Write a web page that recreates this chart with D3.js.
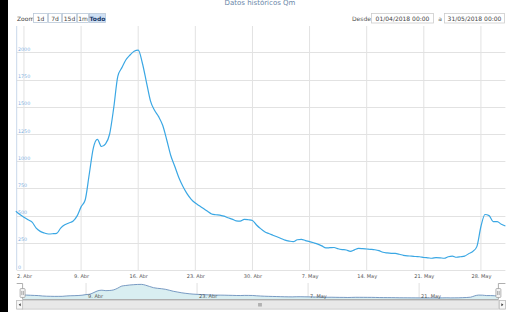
<!DOCTYPE html>
<html>
<head>
<meta charset="utf-8">
<script src="https://cdn.jsdelivr.net/npm/d3@7"></script>
<style>
  body { margin: 0; background: #fff; }
  svg { display: block; font-family: 'DejaVu Sans', sans-serif; }
</style>
</head>
<body>
<div id="chart"></div>
<script>
// Q values every 12 hours, 01/04/2018 00:00 -> 31/05/2018 00:00
const startDate = '2018-04-01';
const endDate = '2018-05-31';
const stepHours = 12;
const values = [
  540, 510, 485, 462, 440, 385, 355, 340, 331, 333,
  337, 385, 415, 432, 448, 495, 580, 643, 880, 1120,
  1200, 1135, 1160, 1250, 1490, 1780, 1860, 1932, 1976, 2010,
  2020, 1905, 1730, 1555, 1468, 1410, 1330, 1195, 1050, 949,
  845, 765, 700, 650, 615, 590, 565, 540, 515, 508,
  505, 495, 480, 468, 452, 450, 466, 462, 455, 414,
  380, 352, 335, 320, 305, 290, 275, 266, 260, 278,
  282, 270, 261, 250, 238, 222, 203, 205, 207, 195,
  188, 184, 172, 185, 198, 196, 193, 190, 186, 178,
  163, 157, 153, 152, 145, 135, 130, 128, 124, 122,
  115, 112, 108, 114, 112, 108, 122, 127, 117, 122,
  128, 150, 170, 215, 400, 510, 500, 444, 444, 420,
  404,
];
const yTicks = [0, 250, 500, 750, 1000, 1250, 1500, 1750, 2000];
const xTicks = ['2018-04-02', '2018-04-09', '2018-04-16', '2018-04-23', '2018-04-30',
  '2018-05-07', '2018-05-14', '2018-05-21', '2018-05-28'];
const navTicks = ['2018-04-09', '2018-04-23', '2018-05-07', '2018-05-21'];
const monthNames = { 3: 'Abr', 4: 'May' };
const zoomButtons = ['1d', '7d', '15d', '1m', 'Todo'];
const rangeFrom = '01/04/2018 00:00';
const rangeTo = '31/05/2018 00:00';
const title = 'Datos históricos Qm';

const t0 = new Date(startDate + 'T00:00:00Z');
const data = values.map((v, i) => ({ date: new Date(+t0 + i * stepHours * 3600e3), value: v }));
const fmt = (d) => `${d.getUTCDate()}. ${monthNames[d.getUTCMonth()]}`;

const W = 510, H = 312;
const svg = d3.select('#chart').append('svg').attr('width', W).attr('height', H);

const x = d3.scaleUtc()
  .domain([t0, new Date(endDate + 'T00:00:00Z')])
  .range([15.8, 505.4]);
const y = d3.scaleLinear().domain([0, 2250]).range([270, 25.2]);
const plotLeft = 16.7, plotRight = 505.4, plotTop = 26, plotBottom = 270;

// title (cut at top)
svg.append('text')
  .attr('x', 260).attr('y', 5)
  .attr('text-anchor', 'middle')
  .attr('font-size', 7).attr('fill', '#6a86a8')
  .text(title);

// zoom buttons
svg.append('text').attr('x', 17).attr('y', 20.5)
  .attr('font-size', 6).attr('fill', '#444').text('Zoom');
const btnW = [15, 14, 15, 12, 17];
let bx = 33;
zoomButtons.forEach((b, i) => {
  const sel = b === 'Todo';
  svg.append('rect')
    .attr('x', bx + 0.5).attr('y', 13.5).attr('width', btnW[i] - 1).attr('height', 9)
    .attr('fill', sel ? '#cfe0f4' : '#fff').attr('stroke', '#b8c8d8').attr('stroke-width', 0.8);
  svg.append('text')
    .attr('x', bx + btnW[i] / 2).attr('y', 20.5)
    .attr('text-anchor', 'middle').attr('font-size', 6)
    .attr('font-weight', sel ? 'bold' : 'normal')
    .attr('fill', sel ? '#1a3a6a' : '#444').text(b);
  bx += btnW[i];
});

// range inputs
svg.append('text').attr('x', 352).attr('y', 20.5)
  .attr('font-size', 6).attr('fill', '#555').text('Desde');
[[371, 62, rangeFrom], [444, 60, rangeTo]].forEach(([ix, iw, txt]) => {
  svg.append('rect')
    .attr('x', ix + 0.5).attr('y', 13.5).attr('width', iw).attr('height', 9.5)
    .attr('fill', '#fff').attr('stroke', '#ccc').attr('stroke-width', 0.8);
  svg.append('text')
    .attr('x', ix + iw / 2 + 0.5).attr('y', 20.6)
    .attr('text-anchor', 'middle').attr('font-size', 6).attr('fill', '#444').text(txt);
});
svg.append('text').attr('x', 440).attr('y', 20.5)
  .attr('text-anchor', 'middle').attr('font-size', 6).attr('fill', '#555').text('a');

// grid
const grid = svg.append('g');
grid.selectAll('.hg').data(yTicks).enter().append('line')
  .attr('x1', plotLeft).attr('x2', plotRight)
  .attr('y1', (d) => Math.round(y(d)) + 0.5).attr('y2', (d) => Math.round(y(d)) + 0.5)
  .attr('stroke', '#e2e2e2').attr('stroke-width', 1);
grid.selectAll('.vg').data(xTicks).enter().append('line')
  .attr('x1', (d) => x(new Date(d)) ).attr('x2', (d) => x(new Date(d)))
  .attr('y1', plotTop).attr('y2', plotBottom)
  .attr('stroke', '#e2e2e2').attr('stroke-width', 1);

// y axis line + labels
svg.append('line')
  .attr('x1', plotLeft).attr('x2', plotLeft).attr('y1', plotTop).attr('y2', plotBottom)
  .attr('stroke', '#c9d8ea').attr('stroke-width', 1);
svg.append('g').selectAll('text').data(yTicks).enter().append('text')
  .attr('x', 18).attr('y', (d) => y(d) - 1.5)
  .attr('font-size', 4.8).attr('fill', '#7fb0e2')
  .text((d) => d);

// x axis labels
svg.append('g')
  .attr('transform', `translate(0,${plotBottom})`)
  .call(d3.axisBottom(x).tickValues(xTicks.map((d) => new Date(d))).tickFormat(fmt).tickSize(0).tickPadding(4))
  .call((g) => g.select('.domain').remove())
  .call((g) => g.selectAll('text').attr('font-size', 5).attr('fill', '#555').attr('font-family', 'DejaVu Sans'));

// main line
const line = d3.line().x((d) => x(d.date)).y((d) => y(d.value)).curve(d3.curveMonotoneX);
svg.append('path').datum(data)
  .attr('d', line)
  .attr('fill', 'none').attr('stroke', '#3aa7e4').attr('stroke-width', 1.2);

// navigator
const nx = d3.scaleUtc().domain(x.domain()).range([22.6, 498.4]);
const ny = d3.scaleLinear().domain([100, 2030]).range([298, 284.3]);
const navTop = 283, navBottom = 299;
svg.append('g').selectAll('line').data(navTicks).enter().append('line')
  .attr('x1', (d) => nx(new Date(d))).attr('x2', (d) => nx(new Date(d)))
  .attr('y1', navTop).attr('y2', navBottom)
  .attr('stroke', '#e0e0e0');
const area = d3.area().x((d) => nx(d.date)).y0(navBottom).y1((d) => ny(d.value)).curve(d3.curveMonotoneX);
svg.append('path').datum(data).attr('d', area).attr('fill', '#d9eef1');
svg.append('path').datum(data)
  .attr('d', d3.line().x((d) => nx(d.date)).y((d) => ny(d.value)).curve(d3.curveMonotoneX))
  .attr('fill', 'none').attr('stroke', '#5b83b5').attr('stroke-width', 0.8);
svg.append('g').selectAll('text').data(navTicks).enter().append('text')
  .attr('x', (d) => nx(new Date(d)) + 2).attr('y', 298)
  .attr('font-size', 5).attr('fill', '#555')
  .text((d) => fmt(new Date(d)));
// outline
svg.append('path')
  .attr('d', `M${plotLeft},${navTop + 0.5}H${nx.range()[0]}V${navBottom + 0.5}H${nx.range()[1]}V${navTop + 0.5}H${plotRight}`)
  .attr('fill', 'none').attr('stroke', '#9a9a9a').attr('stroke-width', 0.8);
// handles
nx.range().forEach((hx) => {
  svg.append('rect')
    .attr('x', hx - 2.5).attr('y', 288.5).attr('width', 5).attr('height', 9)
    .attr('rx', 1).attr('fill', '#f2f2f2').attr('stroke', '#999').attr('stroke-width', 0.7);
  [-0.8, 0.8].forEach((o) => svg.append('line')
    .attr('x1', hx + o).attr('x2', hx + o).attr('y1', 291).attr('y2', 295)
    .attr('stroke', '#666').attr('stroke-width', 0.5));
});

// scrollbar
svg.append('rect')
  .attr('x', plotLeft).attr('y', 300.5).attr('width', plotRight - plotLeft).attr('height', 8.5)
  .attr('fill', '#f2f2f2').attr('stroke', '#ccc').attr('stroke-width', 0.7);
svg.append('rect')
  .attr('x', nx.range()[0]).attr('y', 300.5).attr('width', nx.range()[1] - nx.range()[0]).attr('height', 8.5)
  .attr('fill', '#e8e8e8').attr('stroke', '#ccc').attr('stroke-width', 0.7);
[[plotLeft, 1], [plotRight - 6, -1]].forEach(([sx, dir]) => {
  svg.append('rect')
    .attr('x', sx).attr('y', 300.5).attr('width', 6).attr('height', 8.5)
    .attr('fill', '#f8f8f8').attr('stroke', '#bbb').attr('stroke-width', 0.7);
  const cx = sx + 3, cy = 304.75;
  svg.append('path')
    .attr('d', `M${cx + dir * 1},${cy - 1.5}L${cx - dir * 1},${cy}L${cx + dir * 1},${cy + 1.5}Z`)
    .attr('fill', '#333');
});
[-1.2, 0, 1.2].forEach((o) => svg.append('line')
  .attr('x1', 260 + o).attr('x2', 260 + o).attr('y1', 303).attr('y2', 306.5)
  .attr('stroke', '#555').attr('stroke-width', 0.5));

// black edge of the screenshot
svg.append('rect').attr('x', 0).attr('y', 0).attr('width', 8).attr('height', H).attr('fill', '#000');
</script>
</body>
</html>
